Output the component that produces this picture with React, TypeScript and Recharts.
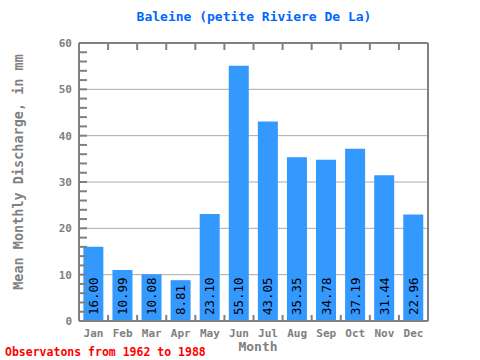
import React from 'react';
import { BarChart, Bar, XAxis, YAxis, CartesianGrid, LabelList } from 'recharts';

// monthly discharge data
const months = ['Jan', 'Feb', 'Mar', 'Apr', 'May', 'Jun', 'Jul', 'Aug', 'Sep', 'Oct', 'Nov', 'Dec'];
const discharge = [16.0, 10.99, 10.08, 8.81, 23.1, 55.1, 43.05, 35.35, 34.78, 37.19, 31.44, 22.96];
const yTicks = [0, 2, 4, 6, 8, 10, 12, 14, 16, 18, 20, 22, 24, 26, 28, 30, 32, 34, 36, 38, 40, 42, 44, 46, 48, 50, 52, 54, 56, 58, 60];
const gridValues = [10, 20, 30, 40, 50];

const data = months.map((m, i) => ({ month: m, value: discharge[i] }));

const W = 480;
const H = 360;
const M = { top: 42, right: 0, bottom: 0, left: 0 };
const LEFT_W = 79;
const RIGHT_W = 52;
const BOTTOM_H = 39;
const BAND = (W - LEFT_W - RIGHT_W) / months.length;

const GRAY = '#808080';
const FONT = '"DejaVu Sans Mono", "Liberation Mono", monospace';

const LeftTick = (props: any) => {
  const { x, y, payload } = props;
  const v = payload.value;
  const major = v % 10 === 0;
  const ax = x + 7;
  return (
    <g>
      <line x1={ax} x2={ax + 8} y1={y} y2={y} stroke={GRAY} strokeWidth={2} />
      {major && (
        <text x={x} y={y} dy={4} textAnchor="end" fill={GRAY} fontSize={11} fontWeight="bold" fontFamily={FONT}>
          {v}
        </text>
      )}
    </g>
  );
};

const RightTick = (props: any) => {
  const { x, y } = props;
  return <line x1={x} x2={x - 7} y1={y} y2={y} stroke={GRAY} strokeWidth={2} />;
};

const BottomTick = (props: any) => {
  const { x, y, payload, index } = props;
  return (
    <g>
      {index < months.length - 1 && (
        <line x1={x + BAND / 2} x2={x + BAND / 2} y1={y} y2={y - 6} stroke={GRAY} strokeWidth={2} />
      )}
      <text x={x} y={y + 16} textAnchor="middle" fill={GRAY} fontSize={11} fontWeight="bold" fontFamily={FONT}>
        {payload.value}
      </text>
    </g>
  );
};

const TopTick = (props: any) => {
  const { x, y, index } = props;
  if (index >= months.length - 1) return <g />;
  return <line x1={x + BAND / 2} x2={x + BAND / 2} y1={y} y2={y + 7} stroke={GRAY} strokeWidth={2} />;
};

const ValueLabel = (props: any) => {
  const { x, y, width, height, value } = props;
  const cx = x + width / 2;
  const by = y + height - 6;
  return (
    <text
      x={cx}
      y={by}
      transform={`rotate(-90 ${cx} ${by})`}
      dy={4.5}
      textAnchor="start"
      fill="#000"
      fontSize={12.5}
      fontFamily={FONT}
    >
      {Number(value).toFixed(2)}
    </text>
  );
};

const App = () => {
  return (
    <div style={{ position: 'absolute', left: 0, top: 0, width: W, height: H, background: '#fff', fontFamily: FONT }}>
      <BarChart width={W} height={H} data={data} margin={M} barCategoryGap="15%">
        <CartesianGrid vertical={false} horizontalValues={gridValues} stroke="#aaaaaa" strokeWidth={1} />
        <XAxis
          dataKey="month"
          height={BOTTOM_H}
          axisLine={{ stroke: GRAY, strokeWidth: 2 }}
          tickLine={false}
          tickSize={0}
          tickMargin={0}
          tick={<BottomTick />}
          interval={0}
        />
        <XAxis
          xAxisId="top"
          dataKey="month"
          orientation="top"
          height={1}
          axisLine={{ stroke: GRAY, strokeWidth: 2 }}
          tickLine={false}
          tickSize={0}
          tickMargin={0}
          tick={<TopTick />}
          interval={0}
        />
        <YAxis
          width={LEFT_W}
          domain={[0, 60]}
          ticks={yTicks}
          interval={0}
          axisLine={{ stroke: GRAY, strokeWidth: 2 }}
          tickLine={false}
          tickSize={0}
          tickMargin={7}
          tick={<LeftTick />}
        />
        <YAxis
          yAxisId="right"
          orientation="right"
          width={RIGHT_W}
          domain={[0, 60]}
          ticks={yTicks}
          interval={0}
          axisLine={{ stroke: GRAY, strokeWidth: 2 }}
          tickLine={false}
          tickSize={0}
          tickMargin={0}
          tick={<RightTick />}
        />
        <Bar dataKey="value" fill="#3399ff" isAnimationActive={false}>
          <LabelList dataKey="value" content={<ValueLabel />} />
        </Bar>
      </BarChart>

      <div style={{ position: 'absolute', left: 0, top: 8, width: 508, textAlign: 'center', color: '#0066ff', fontSize: 13, fontWeight: 'bold', lineHeight: '18px' }}>
        Baleine (petite Riviere De La)
      </div>
      <div
        style={{
          position: 'absolute',
          left: 18 - 150,
          top: 172 - 9,
          width: 300,
          textAlign: 'center',
          transform: 'rotate(-90deg)',
          color: GRAY,
          fontSize: 13.5,
          fontWeight: 'bold',
          lineHeight: '18px',
        }}
      >
        Mean Monthly Discharge, in mm
      </div>
      <div style={{ position: 'absolute', left: 208, top: 338, width: 100, textAlign: 'center', color: GRAY, fontSize: 13, fontWeight: 'bold', lineHeight: '18px' }}>
        Month
      </div>
      <div style={{ position: 'absolute', left: 5, top: 344, color: '#ff0000', fontSize: 11.5, fontWeight: 'bold', lineHeight: '16px', whiteSpace: 'nowrap' }}>
        Observatons from 1962 to 1988
      </div>
    </div>
  );
};

export default App;
